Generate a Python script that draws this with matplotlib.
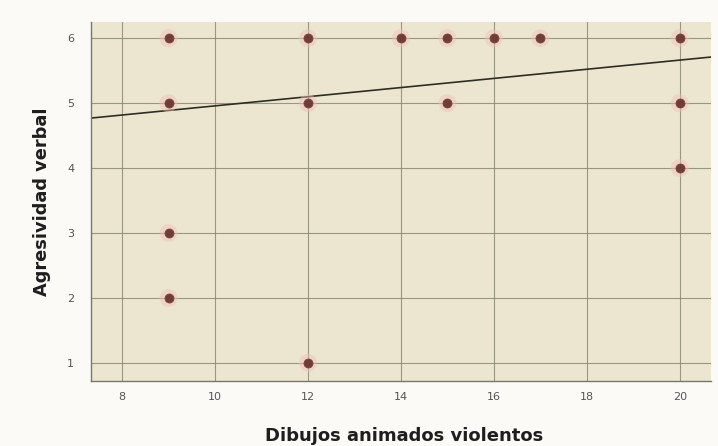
import numpy as np
import matplotlib
import matplotlib.pyplot as plt

# data
dibujos = [9, 9, 9, 9, 12, 12, 12, 14, 15, 15, 16, 17, 20, 20, 20]
agresividad = [6, 5, 3, 2, 6, 5, 1, 6, 6, 5, 6, 6, 6, 5, 4]

# fit line end points
fit_x = [7.33, 20.67]
fit_y = [4.77, 5.71]

x_ticks = [8, 10, 12, 14, 16, 18, 20]
y_ticks = [1, 2, 3, 4, 5, 6]

BG = '#ece6d1'
GRID = '#85836f'
DOT = '#6f3d36'

fig = plt.figure(figsize=(7.18, 4.46), dpi=100, facecolor='#fbfaf7')
ax = fig.add_axes([0.1267, 0.1457, 0.8633, 0.805])
ax.set_facecolor(BG)

ax.set_xlim(7.33, 20.67)
ax.set_ylim(0.72, 6.25)
ax.set_xticks(x_ticks)
ax.set_yticks(y_ticks)
ax.grid(True, color=GRID, lw=0.8, alpha=0.8)
ax.set_axisbelow(True)

ax.plot(fit_x, fit_y, color='#2e2e22', lw=1.2, zorder=2)
ax.scatter(dibujos, agresividad, s=170, color='#f2c0b8', alpha=0.45,
           edgecolors='none', zorder=3)
ax.scatter(dibujos, agresividad, s=42, color=DOT, edgecolors='#7a4640',
           linewidths=0.6, zorder=4)

for s in ['top', 'right']:
    ax.spines[s].set_visible(False)
for s in ['left', 'bottom']:
    ax.spines[s].set_color('#777766')
    ax.spines[s].set_linewidth(1.0)

ax.tick_params(axis='both', labelsize=8, colors='#555555', length=0, pad=8)
ax.tick_params(axis='y', pad=12)

fig.text(0.563, 0.012, 'Dibujos animados violentos', ha='center', va='baseline',
         fontsize=13, fontweight='bold', color='#1e1e1e')
fig.text(0.058, 0.547, 'Agresividad verbal', ha='center', va='center',
         rotation=90, fontsize=12.8, fontweight='bold', color='#1e1e1e')

fig.savefig('out.png', dpi=100, facecolor=fig.get_facecolor())
